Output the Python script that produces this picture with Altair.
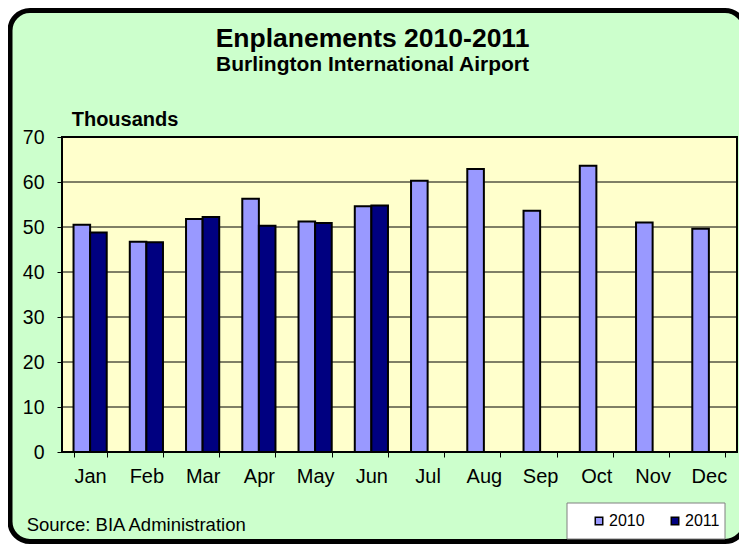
import altair as alt
import pandas as pd

# ---- data -------------------------------------------------------------
months = ["Jan", "Feb", "Mar", "Apr", "May", "Jun",
          "Jul", "Aug", "Sep", "Oct", "Nov", "Dec"]
years = ["2010", "2011"]
enpl_2010 = [50.5, 46.7, 51.8, 56.3, 51.2, 54.6, 60.3, 62.9, 53.6, 63.6, 51.0, 49.6]
enpl_2011 = [48.8, 46.6, 52.2, 50.3, 50.9, 54.8]
y_ticks = [0, 10, 20, 30, 40, 50, 60, 70]
grid_values = [10, 20, 30, 40, 50, 60]
year_colors = ["#9999FF", "#000080"]

title_text = "Enplanements 2010-2011"
subtitle_text = "Burlington International Airport"
units_text = "Thousands"
source_text = "Source: BIA Administration"

rows = [{"month": m, "year": "2010", "value": v} for m, v in zip(months, enpl_2010)]
rows += [{"month": m, "year": "2011", "value": v} for m, v in zip(months, enpl_2011)]
df = pd.DataFrame(rows)

FONT = "Liberation Sans"
W, H = 675, 315
yscale = alt.Scale(domain=[0, 70], nice=False, zero=True)
y_axis = alt.Axis(values=y_ticks, title=None, grid=False, domain=False,
                  tickSize=5, tickColor="black", tickWidth=1,
                  labelFont=FONT, labelFontSize=19.5, labelColor="black",
                  labelPadding=13, zindex=1)

one = pd.DataFrame({"k": [0]})

# outer rounded green panel
frame = alt.Chart(one).mark_rect(
    fill="#CCFFCC", stroke="black", strokeWidth=5, cornerRadius=20
).encode(x=alt.value(-52), x2=alt.value(683), y=alt.value(-126.5), y2=alt.value(404.5))

# plot area
plot_bg = alt.Chart(one).mark_rect(
    fill="#FFFFCC", stroke="black", strokeWidth=2
).encode(x=alt.value(0), x2=alt.value(W), y=alt.value(0), y2=alt.value(H))

# legend box
legend_box = alt.Chart(one).mark_rect(
    fill="white", stroke="#808080", strokeWidth=1
).encode(x=alt.value(505), x2=alt.value(663), y=alt.value(366), y2=alt.value(402))

grid = alt.Chart(pd.DataFrame({"v": grid_values})).mark_rule(
    color="black", strokeWidth=1
).encode(y=alt.Y("v:Q", scale=yscale, axis=y_axis))

bars = alt.Chart(df).mark_bar(stroke="black", strokeWidth=2).encode(
    x=alt.X("month:N", sort=months,
            scale=alt.Scale(paddingInner=0.41, paddingOuter=0.205),
            axis=alt.Axis(title=None, labelAngle=0, domain=False, ticks=True,
                          tickBand="extent", tickSize=5, tickColor="black",
                          tickWidth=1, labelFont=FONT, labelFontSize=20,
                          labelColor="black", labelPadding=9, zindex=1)),
    xOffset=alt.XOffset("year:N", scale=alt.Scale(domain=years, paddingInner=0, paddingOuter=0)),
    y=alt.Y("value:Q", scale=yscale, axis=y_axis),
    color=alt.Color("year:N", scale=alt.Scale(domain=years, range=year_colors),
                    legend=alt.Legend(title=None, orient="none", legendX=529, legendY=376,
                                      direction="horizontal", symbolType="square",
                                      symbolSize=56, symbolStrokeColor="black",
                                      symbolStrokeWidth=1.5, labelFont=FONT,
                                      labelFontSize=16, labelColor="black",
                                      labelOffset=2, columnPadding=22, padding=0)),
)


def text_layer(txt, x, y, size, bold=False, align="left"):
    return alt.Chart(pd.DataFrame({"t": [txt]})).mark_text(
        font=FONT, fontSize=size, fontWeight="bold" if bold else "normal",
        align=align, baseline="alphabetic", color="black"
    ).encode(x=alt.value(x), y=alt.value(y), text="t:N")


title = text_layer(title_text, 310.5, -89.7, 26.5, bold=True, align="center")
subtitle = text_layer(subtitle_text, 310.5, -66.3, 21, bold=True, align="center")
units = text_layer(units_text, 9.7, -11, 20, bold=True)
source = text_layer(source_text, -35.3, 394, 18.5)

chart = alt.layer(
    frame, plot_bg, legend_box, grid, bars, title, subtitle, units, source
).properties(
    width=W, height=H,
    padding={"left": 54, "top": 129, "right": 2, "bottom": 92},
    autosize=alt.AutoSizeParams(type="none"),
    background="white",
).configure_view(stroke="transparent")

chart.save("out.html", embed_options={"renderer": "svg", "actions": False})
